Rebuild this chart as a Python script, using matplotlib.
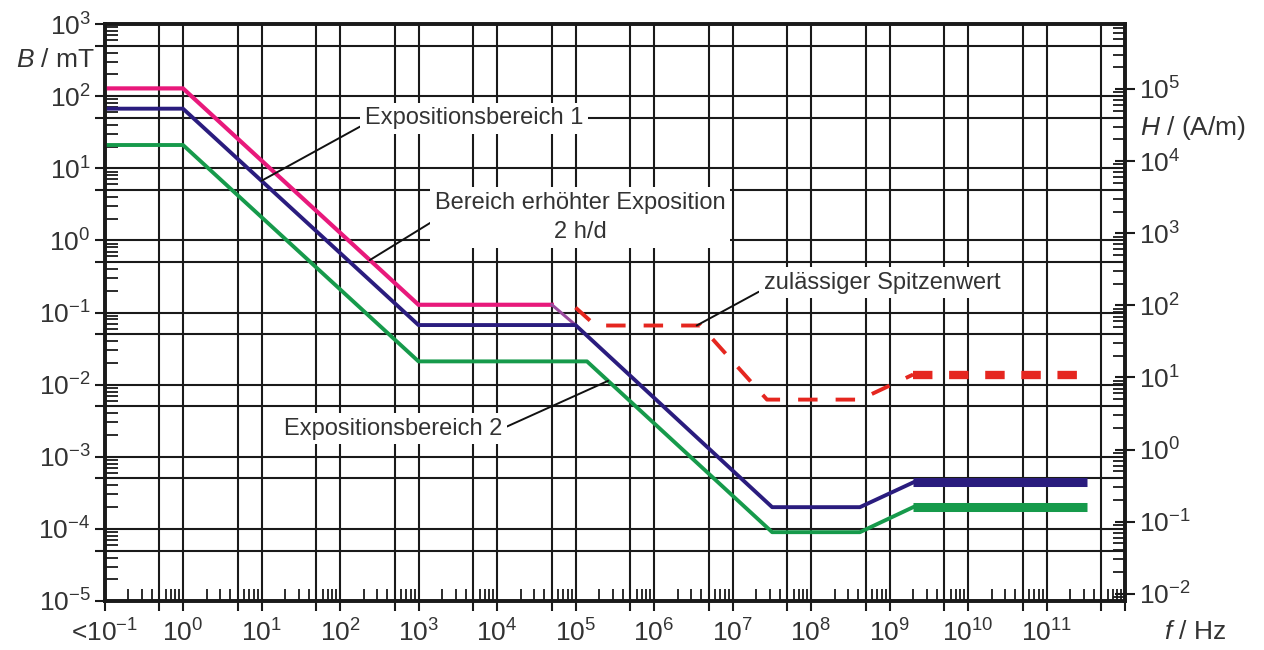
import numpy as np
import matplotlib.pyplot as plt
from matplotlib.ticker import FixedLocator, FixedFormatter, NullFormatter

plt.rcParams['font.family'] = ['Liberation Sans', 'DejaVu Sans']
plt.rcParams['mathtext.fontset'] = 'custom'
plt.rcParams['mathtext.rm'] = 'Liberation Sans'
plt.rcParams['mathtext.it'] = 'Liberation Sans:italic'
plt.rcParams['lines.scale_dashes'] = False

MU0 = 1.2566e-3  # mT per A/m

# Grenzwertkurven (f in Hz, B in mT)
f_pink = [0.1, 1, 1e3, 5e4, 1e5]
b_pink = [128, 128, 0.128, 0.128, 0.067]

f_blue = [0.1, 1, 1e3, 1e5, 3.2e7, 4.2e8, 2e9, 3.3e11]
b_blue = [67, 67, 0.067, 0.067, 2.0e-4, 2.0e-4, 4.4e-4, 4.4e-4]

f_green = [0.1, 1, 1e3, 1.4e5, 3.2e7, 4.2e8, 2e9, 3.3e11]
b_green = [21, 21, 0.021, 0.021, 9.0e-5, 9.0e-5, 2.0e-4, 2.0e-4]

f_red = [1e5, 1.8e5, 3.9e6, 2.75e7, 4.2e8, 2e9, 3.3e11]
b_red = [0.117, 0.066, 0.066, 6.2e-3, 6.2e-3, 0.0138, 0.0138]

x_decades = list(range(-1, 13))
y_decades = list(range(-5, 4))
h_decades = list(range(-2, 6))

PINK = '#E8197B'
BLUE = '#2A1C7E'
GREEN = '#169A4B'
RED = '#E5261F'


def on_line(f, fs, bs):
    return 10 ** np.interp(np.log10(f), np.log10(fs), np.log10(bs))


fig = plt.figure(figsize=(12.64, 6.5), dpi=100)
ax = fig.add_axes([104.5 / 1264, 1 - 601 / 650, (1125 - 104.5) / 1264, 577 / 650])
ax.set_xscale('log')
ax.set_yscale('log')
ax.set_xlim(10.0 ** x_decades[0], 10.0 ** x_decades[-1])
ax.set_ylim(10.0 ** y_decades[0], 10.0 ** y_decades[-1])

# curves
ax.plot(f_pink[:-1], b_pink[:-1], color=PINK, lw=3, zorder=3, solid_joinstyle='miter')
ax.plot(f_pink[-2:], b_pink[-2:], color='#9A4A9E', lw=2.2, zorder=3)
ax.plot(f_blue[:-1], b_blue[:-1], color=BLUE, lw=2.8, zorder=3)
ax.plot(f_blue[-2:], b_blue[-2:], color=BLUE, lw=6.5, zorder=3, solid_capstyle='butt')
ax.plot(f_green[:-1], b_green[:-1], color=GREEN, lw=2.8, zorder=3)
ax.plot(f_green[-2:], b_green[-2:], color=GREEN, lw=6.5, zorder=3, solid_capstyle='butt')
ax.plot(f_red[:-1], b_red[:-1], color=RED, lw=2.8, zorder=3, dashes=(14, 13))
ax.plot(f_red[-2:], b_red[-2:], color=RED, lw=6, zorder=3, dashes=(14, 12),
        dash_capstyle='butt')

# axes ticks / grid
xmaj = []
for n in x_decades:
    xmaj.append(10.0 ** n)
    if n < x_decades[-1]:
        xmaj.append(5 * 10.0 ** n)
xlab = []
for v in xmaj:
    n = int(round(np.log10(v)))
    if not np.isclose(v, 10.0 ** n):
        xlab.append('')
    elif n == x_decades[0]:
        xlab.append('<$10^{%d}$' % n)
    elif n == x_decades[-1]:
        xlab.append('')
    else:
        xlab.append('$10^{%d}$' % n)
ax.xaxis.set_major_locator(FixedLocator(xmaj))
ax.xaxis.set_major_formatter(FixedFormatter(xlab))
xmin = [k * 10.0 ** n for n in x_decades[:-1] for k in (2, 3, 4, 6, 7, 8, 9)]
ax.xaxis.set_minor_locator(FixedLocator(xmin))
ax.xaxis.set_minor_formatter(NullFormatter())

ymaj = []
for n in y_decades:
    ymaj.append(10.0 ** n)
    if n < y_decades[-1]:
        ymaj.append(5 * 10.0 ** n)
ylab = ['$10^{%d}$' % int(round(np.log10(v))) if np.isclose(v, 10.0 ** round(np.log10(v))) else ''
        for v in ymaj]
ax.yaxis.set_major_locator(FixedLocator(ymaj))
ax.yaxis.set_major_formatter(FixedFormatter(ylab))
ymin = [k * 10.0 ** n for n in y_decades[:-1] for k in (2, 3, 4, 6, 7, 8, 9)]
ax.yaxis.set_minor_locator(FixedLocator(ymin))
ax.yaxis.set_minor_formatter(NullFormatter())

ax.grid(True, which='major', color='#1a1a1a', lw=1.5)
ax.grid(False, which='minor')
ax.tick_params(axis='both', which='major', direction='out', length=7, width=1.5,
               labelsize=19, colors='#1a1a1a', labelcolor='#333333')
ax.tick_params(axis='both', which='minor', direction='in', length=9, width=1.3,
               colors='#1a1a1a')
ax.tick_params(axis='y', which='major', pad=3)
ax.tick_params(axis='x', which='major', pad=6)
ax.tick_params(top=False, right=False, which='both')
for sp in ax.spines.values():
    sp.set_linewidth(2.6)
    sp.set_color('#1a1a1a')

for t, v in zip(ax.yaxis.get_major_ticks(len(ymaj)), ymaj):
    if not np.isclose(v, 10.0 ** round(np.log10(v))):
        t.tick1line.set_visible(False)

# right axis H in A/m
ax2 = ax.twinx()
ax2.set_yscale('log')
ax2.set_ylim(10.0 ** y_decades[0] / MU0, 10.0 ** y_decades[-1] / MU0)
ax2.yaxis.set_major_locator(FixedLocator([10.0 ** n for n in h_decades]))
ax2.yaxis.set_major_formatter(FixedFormatter(['$10^{%d}$' % n for n in h_decades]))
ax2.yaxis.set_minor_locator(FixedLocator(
    [k * 10.0 ** n for n in range(h_decades[0] - 1, h_decades[-1] + 1)
     for k in (2, 3, 4, 5, 6, 7, 8, 9)]))
ax2.yaxis.set_minor_formatter(NullFormatter())
ax2.tick_params(axis='y', which='major', direction='inout', length=14, width=1.5,
                labelsize=19, colors='#1a1a1a', labelcolor='#333333', pad=3)
ax2.tick_params(axis='y', which='minor', direction='in', length=9, width=1.3,
                colors='#1a1a1a')
for sp in ax2.spines.values():
    sp.set_linewidth(2.6)
    sp.set_color('#1a1a1a')

# annotations
notes = [
    ("Expositionsbereich 1", (5.1e3, 49), 10, f_blue, b_blue, (0, 0.25)),
    ("Bereich erhöhter Exposition\n2 h/d", (1.15e5, 2.08), 240, f_pink, b_pink, (0, 0.45)),
    ("zulässiger Spitzenwert", (8e8, 0.26), 3.5e6, f_red, b_red, (0, 0.2)),
    ("Expositionsbereich 2", (473, 2.45e-3), 2.6e5, f_green, b_green, (1, 0.5)),
]
for txt, pos, f_at, fs, bs, rp in notes:
    ax.annotate(txt, xy=(f_at, on_line(f_at, fs, bs)), xytext=pos,
                ha='center', va='center', fontsize=17, color='#333333',
                linespacing=1.4, zorder=5,
                bbox=dict(boxstyle='square,pad=0.2', fc='white', ec='none'),
                arrowprops=dict(arrowstyle='-', color='#111111', lw=1.4,
                                shrinkA=0, shrinkB=0, relpos=rp))

fig.text(95 / 1264, 1 - 60 / 650, '$B$ / mT', ha='right', va='center',
         fontsize=19, color='#333333')
fig.text(1140 / 1264, 1 - 128 / 650, '$H$ / (A/m)', ha='left', va='center',
         fontsize=19, color='#333333')
fig.text(1195 / 1264, 1 - 632 / 650, '$f$ / Hz', ha='center', va='center',
         fontsize=19, color='#333333')

fig.savefig('out.png', dpi=100)
